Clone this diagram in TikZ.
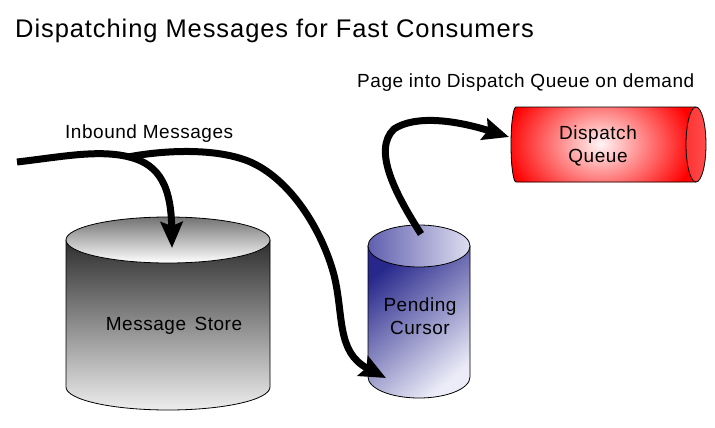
\documentclass[tikz,border=0pt]{standalone}
\usepackage{fontspec}
\setmainfont{Liberation Sans}
\newfontfamily\lblfont[LetterSpace=2.8]{Liberation Sans}
\newfontfamily\ttlfont[LetterSpace=3.6]{Liberation Sans}
\usetikzlibrary{arrows.meta}
\definecolor{pcdark}{RGB}{40,40,140}
\definecolor{pclight}{RGB}{236,236,248}
\definecolor{pctopA}{RGB}{95,95,175}
\definecolor{pctopB}{RGB}{222,222,240}
\begin{document}
\begin{tikzpicture}[x=1pt,y=-1pt,
  flow/.style={line width=7pt,-{Stealth[length=26pt,width=22pt,inset=4pt]}},
  lbl/.style={font=\lblfont\fontsize{19pt}{23.5pt}\selectfont, inner sep=0pt},
  outl/.style={draw=black,line width=0.8pt}]
\fill[white] (0,0) rectangle (715,428);
\useasboundingbox (0,0) rectangle (715,428);

% title and labels
\node[font=\ttlfont\fontsize{25.5pt}{30pt}\selectfont, anchor=base west, inner sep=0pt] (title) at (15,38) {Dispatching Messages for Fast Consumers};
\node[lbl, anchor=base west] (pagelbl) at (357,88) {Page into Dispatch Queue on demand};
\node[lbl, anchor=base west] (inlbl) at (65,138) {Inbound Messages};

% Message Store cylinder
\shade[outl, top color=black!82, bottom color=black!7]
  (66,240) -- (66,387) arc[start angle=180, end angle=360, x radius=102pt, y radius=23pt] -- (270,240) -- cycle;
\shade[outl, top color=black!55, bottom color=white]
  (168,240) ellipse [x radius=102pt, y radius=23pt];
\node[lbl, anchor=base] (store) at (174,330) {Message\hspace{0.45em}Store};

% Pending Cursor cylinder
\shade[outl, top color=pcdark, bottom color=pclight, shading angle=40]
  (368,246) -- (368,377) arc[start angle=180, end angle=360, x radius=51pt, y radius=21pt] -- (470,246) -- cycle;
\shade[outl, left color=pctopA, right color=pctopB]
  (419,246) ellipse [x radius=51pt, y radius=21pt];
\node[lbl, align=center] (pending) at (420,316) {Pending\\Cursor};

% Dispatch Queue cylinder (horizontal)
\path[fill=red, path picture={
    \shade[inner color=red!4, outer color=red] (600,144) ellipse [x radius=95pt, y radius=72pt];
  }]
  (696,107) -- (516,107) arc[start angle=90, end angle=270, x radius=5pt, y radius=37.5pt] -- (696,182) -- cycle;
\draw[outl] (696,107) -- (516,107) arc[start angle=90, end angle=270, x radius=5pt, y radius=37.5pt] -- (696,182);
\shade[outl, left color=red!80, middle color=red!5, right color=red!70]
  (696,144.5) ellipse [x radius=10pt, y radius=37.5pt];
\node[lbl, align=center] (dq) at (598,146) {Dispatch\\Queue};

% connectors
\coordinate (in) at (17,162);
\coordinate (fork) at (128,157);
\coordinate (mstip) at (172,248);
\coordinate (pctip) at (386,378);
\coordinate (pcstart) at (421,234);
\coordinate (dqtip) at (509,137);

\draw[flow] (in) .. controls (60,157) and (95,150) .. (125,156)
  .. controls (155,162) and (171,180) .. (mstip);
\draw[flow] (fork) .. controls (165,150) and (215,148) .. (248,161)
  .. controls (290,178) and (322,230) .. (334,275)
  .. controls (344,315) and (336,352) .. (pctip);
\draw[flow] (pcstart) .. controls (396,195) and (372,150) .. (394,129)
  .. controls (415,115) and (455,120) .. (dqtip);
\end{tikzpicture}
\end{document}
